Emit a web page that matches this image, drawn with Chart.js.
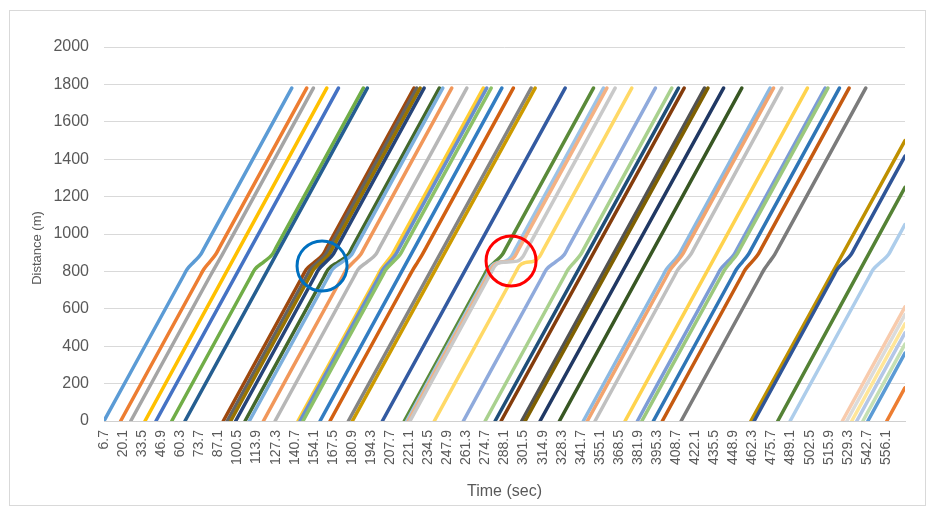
<!DOCTYPE html>
<html>
<head>
<meta charset="utf-8">
<script src="https://cdn.jsdelivr.net/npm/chart.js@4.4.1/dist/chart.umd.min.js"></script>
<style>
  html, body { margin: 0; padding: 0; background: #fff; }
</style>
</head>
<body>
<canvas id="chart" width="935" height="516"></canvas>
<script>
// === Axis ticks ===
const timeTicks = [
  6.7, 20.1, 33.5, 46.9, 60.3, 73.7, 87.1, 100.5, 113.9, 127.3, 140.7, 154.1,
  167.5, 180.9, 194.3, 207.7, 221.1, 234.5, 247.9, 261.3, 274.7, 288.1, 301.5,
  314.9, 328.3, 341.7, 355.1, 368.5, 381.9, 395.3, 408.7, 422.1, 435.5, 448.9,
  462.3, 475.7, 489.1, 502.5, 515.9, 529.3, 542.7, 556.1,
];
const timeRange = [6.7, 569.5];
const distanceRange = [0, 2000];
const distanceStep = 200;

// === Series colours (Excel order) ===
const seriesColors = [
  "#5B9BD5", "#ED7D31", "#A5A5A5", "#FFC000", "#4472C4", "#70AD47",
  "#255E91", "#9E480E", "#636363", "#997300", "#264478", "#43682B",
  "#7CAFDD", "#F1975A", "#B7B7B7", "#FFCD33", "#698ED0", "#8CC168",
  "#327DC2", "#D26012", "#848484", "#CC9A00", "#335AA1", "#5A8A39",
  "#9DC3E6", "#F4B183", "#C9C9C9", "#FFD966", "#8FAADC", "#A9D18E",
  "#1F4E79", "#843C0C", "#525252", "#7F6000", "#203864", "#385723",
  "#8CB9E2", "#F2A46F", "#C0C0C0", "#FFD34D", "#7C9CD6", "#9BC87D",
  "#2E75B6", "#C55A11", "#7B7B7B", "#BF9000", "#2F5597", "#548235",
  "#ADCDEB", "#F8CBAD", "#DBDBDB", "#FFE699", "#B4C7E7", "#C5E0B4",
  "#5B9BD5", "#ED7D31",
];

// === Vehicle trajectories: [time (sec), distance (m)] ===
const trajectories = [
  [[6.7, 0], [62.1, 770], [65.0, 810], [69.8, 850], [74.6, 890], [77.5, 930], [138.6, 1780]],
  [[18.4, 0], [73.8, 770], [76.7, 810], [80.9, 850], [85.1, 890], [88.0, 930], [149.1, 1780]],
  [[25.5, 0], [80.9, 770], [83.8, 810], [86.8, 850], [89.8, 890], [92.7, 930], [153.8, 1780]],
  [[35.5, 0], [163.2, 1780]],
  [[43.2, 0], [171.4, 1780]],
  [[54.3, 0], [109.7, 770], [112.6, 810], [118.8, 850], [124.9, 890], [127.8, 930], [188.9, 1780]],
  [[63.6, 0], [191.7, 1780]],
  [[90.5, 0], [145.9, 770], [148.8, 810], [154.7, 850], [160.5, 890], [163.4, 930], [224.5, 1780]],
  [[93.3, 0], [148.7, 770], [151.6, 810], [157.0, 850], [162.4, 890], [165.3, 930], [226.4, 1780]],
  [[95.7, 0], [151.1, 770], [154.0, 810], [159.4, 850], [164.8, 890], [167.7, 930], [228.8, 1780]],
  [[99.2, 0], [154.6, 770], [157.5, 810], [162.6, 850], [167.6, 890], [170.5, 930], [231.6, 1780]],
  [[105.8, 0], [161.2, 770], [164.1, 810], [171.2, 850], [178.3, 890], [181.2, 930], [242.3, 1780]],
  [[108.8, 0], [164.2, 770], [167.1, 810], [173.9, 850], [180.7, 890], [183.6, 930], [244.7, 1780]],
  [[118.7, 0], [174.1, 770], [177.0, 810], [182.0, 850], [187.0, 890], [189.9, 930], [251.0, 1780]],
  [[126.9, 0], [182.3, 770], [185.2, 810], [191.4, 850], [197.6, 890], [200.5, 930], [261.6, 1780]],
  [[143.0, 0], [198.4, 770], [201.3, 810], [205.3, 850], [209.2, 890], [212.1, 930], [273.2, 1780]],
  [[144.4, 0], [199.8, 770], [202.7, 810], [207.2, 850], [211.6, 890], [214.5, 930], [275.6, 1780]],
  [[146.5, 0], [201.9, 770], [204.8, 810], [209.8, 850], [214.7, 890], [217.6, 930], [278.7, 1780]],
  [[158.5, 0], [286.2, 1780]],
  [[165.5, 0], [220.9, 770], [223.8, 810], [227.1, 850], [230.3, 890], [233.2, 930], [294.3, 1780]],
  [[178.4, 0], [306.8, 1780]],
  [[181.2, 0], [309.6, 1780]],
  [[202.3, 0], [330.7, 1780]],
  [[217.7, 0], [273.1, 770], [276.0, 810], [281.3, 850], [286.6, 890], [289.5, 930], [350.6, 1780]],
  [[219.4, 0], [276.2, 790], [279.1, 830], [283.1, 847], [288.9, 855], [292.9, 880], [295.8, 920], [357.6, 1780]],
  [[220.5, 0], [277.3, 790], [280.2, 830], [284.2, 847], [291.3, 855], [295.3, 880], [298.2, 920], [360.0, 1780]],
  [[221.7, 0], [278.5, 790], [281.4, 830], [285.4, 847], [297.1, 855], [301.1, 880], [304.0, 920], [365.8, 1780]],
  [[238.8, 0], [295.6, 790], [298.5, 830], [302.5, 847], [308.8, 855], [312.8, 880], [315.7, 920], [377.5, 1780]],
  [[259.2, 0], [314.6, 770], [317.5, 810], [323.8, 850], [330.1, 890], [333.0, 930], [394.1, 1780]],
  [[274.5, 0], [329.9, 770], [332.8, 810], [337.2, 850], [341.6, 890], [344.5, 930], [405.6, 1780]],
  [[281.5, 0], [410.3, 1780]],
  [[285.7, 0], [414.3, 1780]],
  [[300.2, 0], [428.6, 1780]],
  [[302.6, 0], [431.0, 1780]],
  [[313.1, 0], [442.0, 1780]],
  [[326.7, 0], [454.8, 1780]],
  [[343.5, 0], [398.9, 770], [401.8, 810], [406.3, 850], [410.7, 890], [413.6, 930], [474.7, 1780]],
  [[346.3, 0], [401.7, 770], [404.6, 810], [408.9, 850], [413.1, 890], [416.0, 930], [477.1, 1780]],
  [[351.7, 0], [407.1, 770], [410.0, 810], [414.5, 850], [418.9, 890], [421.8, 930], [482.9, 1780]],
  [[372.8, 0], [500.9, 1780]],
  [[381.5, 0], [436.9, 770], [439.8, 810], [444.6, 850], [449.4, 890], [452.3, 930], [513.4, 1780]],
  [[384.6, 0], [440.0, 770], [442.9, 810], [447.1, 850], [451.3, 890], [454.2, 930], [515.3, 1780]],
  [[392.7, 0], [448.1, 770], [451.0, 810], [455.2, 850], [459.4, 890], [462.3, 930], [523.4, 1780]],
  [[399.0, 0], [454.4, 770], [457.3, 810], [461.8, 850], [466.2, 890], [469.1, 930], [530.2, 1780]],
  [[412.2, 0], [467.6, 770], [470.5, 810], [474.2, 850], [477.9, 890], [480.8, 930], [541.9, 1780]],
  [[461.2, 0], [569.5, 1500]],
  [[463.5, 0], [518.9, 770], [521.8, 810], [526.7, 850], [531.6, 890], [534.5, 930], [569.5, 1417]],
  [[480.1, 0], [569.5, 1250]],
  [[488.8, 0], [544.2, 770], [547.1, 810], [552.5, 850], [557.9, 890], [560.8, 930], [569.5, 1051]],
  [[525.5, 0], [569.5, 611]],
  [[528.6, 0], [569.5, 569]],
  [[532.1, 0], [569.5, 520]],
  [[535.6, 0], [569.5, 471]],
  [[539.9, 0], [569.5, 411]],
  [[543.4, 0], [569.5, 363]],
  [[556.7, 0], [569.5, 178]],
];

// === Circled spots: [time (sec), distance (m)] ===
const blueSpot = [159.9, 829];
const redSpot = [292.7, 856];

const TEXT = "#595959";
const FONT = "'Liberation Sans', Arial, sans-serif";

// frame, y title and the two circles
const decorations = {
  id: "decorations",
  beforeDraw(chart) {
    const c = chart.ctx;
    c.save();
    c.fillStyle = "#fff";
    c.fillRect(0, 0, chart.width, chart.height);
    c.strokeStyle = "#D9D9D9";
    c.lineWidth = 1;
    c.strokeRect(9.5, 10.5, 916, 495);
    // y axis title, Excel puts it a bit below the plot centre
    c.translate(37, 248);
    c.rotate(-Math.PI / 2);
    c.fillStyle = TEXT;
    c.font = "13px " + FONT;
    c.textAlign = "center";
    c.textBaseline = "middle";
    c.fillText("Distance (m)", 0, 0);
    c.restore();
  },
  afterDatasetsDraw(chart) {
    const c = chart.ctx;
    const { x, y } = chart.scales;
    const ring = (spot, color) => {
      c.beginPath();
      c.arc(x.getPixelForValue(spot[0]), y.getPixelForValue(spot[1]), 25, 0, Math.PI * 2);
      c.strokeStyle = color;
      c.lineWidth = 3;
      c.stroke();
    };
    c.save();
    ring(blueSpot, "#0070C0");
    ring(redSpot, "#FF0000");
    c.restore();
  },
};

const ctx = document.getElementById("chart").getContext("2d");
new Chart(ctx, {
  type: "line",
  data: {
    datasets: trajectories.map((pts, i) => ({
      data: pts.map(([t, d]) => ({ x: t, y: d })),
      borderColor: seriesColors[i],
      borderWidth: 3.5,
      pointRadius: 0,
      fill: false,
      cubicInterpolationMode: "monotone",
      borderCapStyle: "round",
      borderJoinStyle: "round",
      order: -i,
    })),
  },
  options: {
    responsive: false,
    animation: false,
    devicePixelRatio: 1,
    layout: { padding: { left: 0, right: 30, top: 47, bottom: 0 } },
    plugins: { legend: { display: false }, tooltip: { enabled: false } },
    scales: {
      x: {
        type: "linear",
        min: timeRange[0],
        max: timeRange[1],
        afterBuildTicks: (scale) => {
          scale.ticks = timeTicks.map((v) => ({ value: v }));
        },
        afterFit: (scale) => {
          scale.height = 95;
        },
        grid: { display: false, drawTicks: false },
        border: { display: true, color: "#D0D0D0" },
        ticks: {
          autoSkip: false,
          maxRotation: 90,
          minRotation: 90,
          padding: 9,
          color: TEXT,
          font: { family: FONT, size: 14 },
          callback: (v, i) => String(timeTicks[i]),
        },
        title: {
          display: true,
          text: "Time (sec)",
          color: TEXT,
          font: { family: FONT, size: 16 },
          padding: { top: 0, bottom: 15 },
        },
      },
      y: {
        min: distanceRange[0],
        max: distanceRange[1],
        afterFit: (scale) => {
          scale.width = 104;
        },
        grid: { color: "#D9D9D9", drawTicks: false },
        border: { display: false },
        ticks: {
          stepSize: distanceStep,
          padding: 15,
          color: TEXT,
          font: { family: FONT, size: 16 },
          callback: (v) => String(v),
        },
      },
    },
  },
  plugins: [decorations],
});
</script>
</body>
</html>
